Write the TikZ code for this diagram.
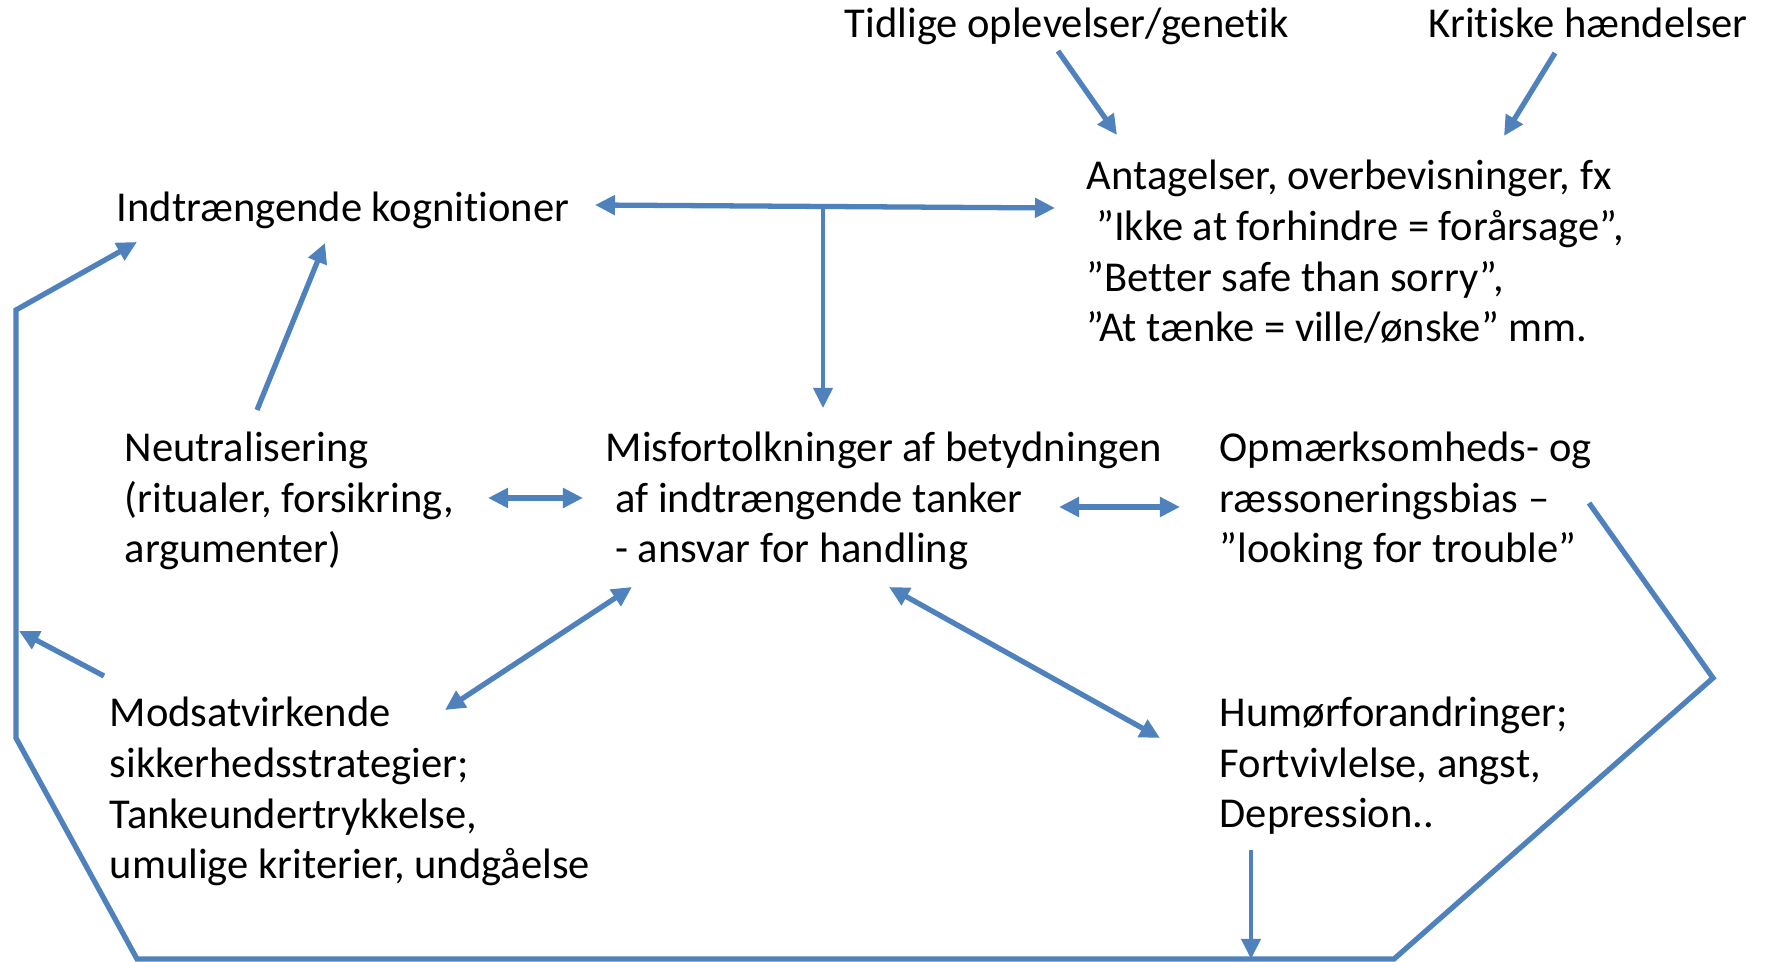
\documentclass[tikz,border=0pt]{standalone}
\usepackage{fontspec}
\setmainfont{Carlito}[Ligatures={NoCommon}]
\usetikzlibrary{arrows.meta}
\definecolor{linkblue}{HTML}{4F81BD}
\newcommand{\lead}{\hspace*{0.226em}}
\begin{document}
\begin{tikzpicture}[x=0.01cm, y=-0.01cm,
  % multi-line labels are anchored at the baseline of their last line
  lbl/.style={anchor=base west, inner sep=0pt, align=left,
              font=\fontsize{12.1pt}{14.42pt}\selectfont},
  tip/.tip={Triangle[length=2mm, width=1.9mm]},
  link/.style={draw=linkblue, line width=1.5pt, line join=miter, -tip},
  both/.style={link, tip-tip},
  thin/.style={link, line width=1.1pt}
]
\useasboundingbox (0,0) rectangle (1766,962);

% text blocks
\node[lbl] (early) at (844,38) {Tidlige oplevelser/genetik};
\node[lbl] (crit) at (1428,38) {Kritiske hændelser};
\node[lbl] (intr) at (116,222) {Indtrængende kognitioner};
\node[lbl] (beliefs) at (1086,342) {Antagelser, overbevisninger, fx\\
  \lead”Ikke at forhindre = forårsage”,\\
  ”Better safe than sorry”,\\
  ”At tænke = ville/ønske” mm.};
\node[lbl] (neutr) at (124,563) {Neutralisering\\(ritualer, forsikring,\\argumenter)};
\node[lbl] (misint) at (605,563) {Misfortolkninger af betydningen\\
  \lead af indtrængende tanker\\\lead - ansvar for handling};
\node[lbl] (bias) at (1219,563) {Opmærksomheds- og\\ræssoneringsbias –\\”looking for trouble”};
\node[lbl] (safety) at (109,879) {Modsatvirkende\\sikkerhedsstrategier;\\Tankeundertrykkelse,\\umulige kriterier, undgåelse};
\node[lbl] (mood) at (1219,828) {Humørforandringer;\\Fortvivlelse, angst,\\Depression..};

% connector end points
\coordinate (earlyOut) at (1058,51);
\coordinate (earlyIn)  at (1117,135);
\coordinate (critOut)  at (1555,53);
\coordinate (critIn)   at (1504,136);
\coordinate (intrR)    at (595,205);
\coordinate (beliefsL) at (1055,208);
\coordinate (junction) at (823,206);
\coordinate (misintT)  at (823,408);
\coordinate (neutrT)   at (257,410);
\coordinate (intrB)    at (325,243);
\coordinate (intrBL)   at (137,242);
\coordinate (neutrR)   at (488,498);
\coordinate (misintL)  at (583,498);
\coordinate (misintR)  at (1059,507);
\coordinate (biasL)    at (1180,507);
\coordinate (safetyT)  at (445,710);
\coordinate (misintBL) at (632,587);
\coordinate (misintBR) at (889,587);
\coordinate (moodT)    at (1160,738);
\coordinate (biasR)    at (1589,503);
\coordinate (loopE)    at (1713,678);
\coordinate (loopSE)   at (1394,959);
\coordinate (loopSW)   at (137,959);
\coordinate (loopW)    at (16,738);
\coordinate (loopNW)   at (16,310);
\coordinate (moodB)    at (1251,850);
\coordinate (moodHit)  at (1251,959);
\coordinate (safetyL)  at (104,676);
\coordinate (loopHit)  at (19,631);

% connectors
\draw[link] (earlyOut) -- (earlyIn);
\draw[link] (critOut) -- (critIn);
\draw[both] (intrR) -- (beliefsL);
\draw[thin] (junction) -- (misintT);
\draw[link] (neutrT) -- (intrB);
\draw[both] (neutrR) -- (misintL);
\draw[both] (misintR) -- (biasL);
\draw[both] (safetyT) -- (misintBL);
\draw[both] (misintBR) -- (moodT);
\draw[link] (biasR) -- (loopE) -- (loopSE) -- (loopSW) -- (loopW) -- (loopNW) -- (intrBL);
\draw[thin] (moodB) -- (moodHit);
\draw[link] (safetyL) -- (loopHit);
\end{tikzpicture}
\end{document}
